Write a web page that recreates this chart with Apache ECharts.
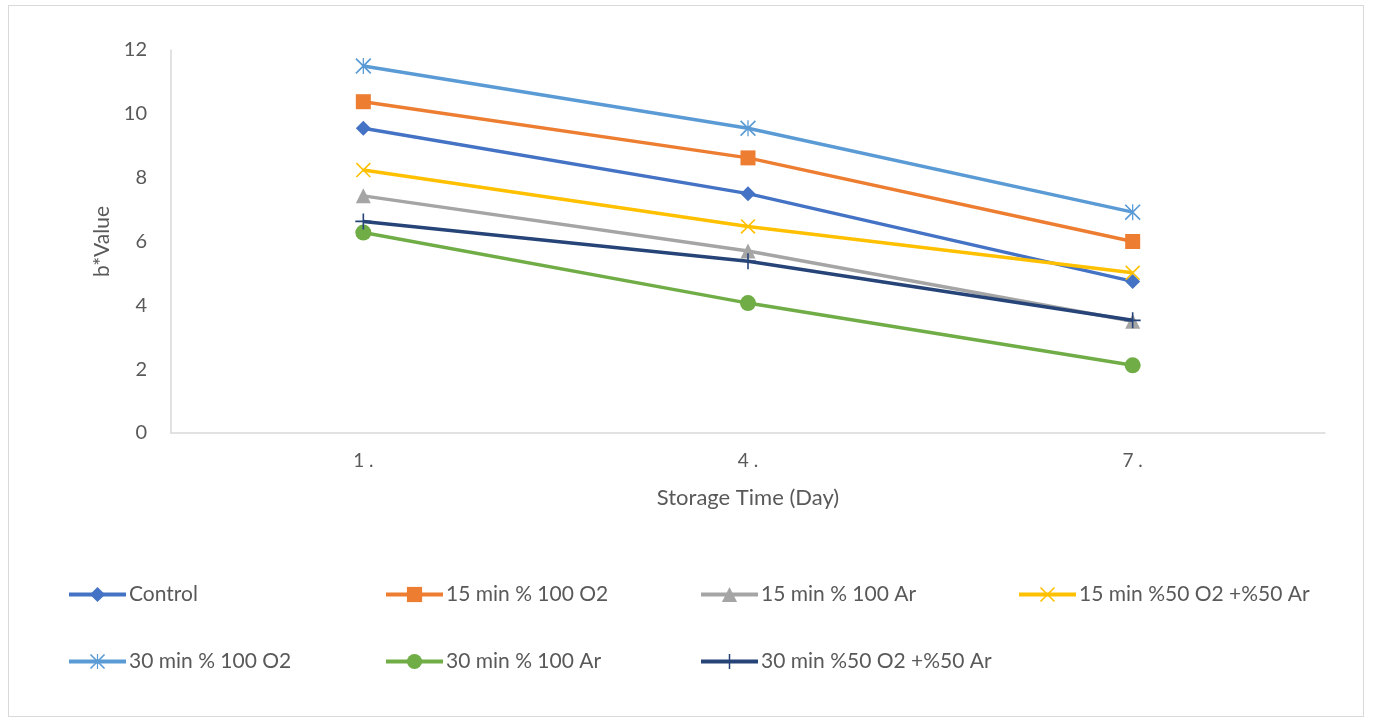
<!DOCTYPE html>
<html>
<head>
<meta charset="utf-8">
<script src="https://cdn.jsdelivr.net/npm/echarts@6/dist/echarts.min.js"></script>
<style>
html,body{margin:0;padding:0;background:#fff;}
#frame{position:absolute;left:8px;top:5px;width:1356px;height:712px;border:1px solid #d9d9d9;box-sizing:border-box;}
#chart{position:absolute;left:0;top:0;width:1373px;height:722px;}
</style>
</head>
<body>
<div id="frame"></div>
<div id="chart"></div>
<script>
const categories = ['1 .', '4 .', '7 .'];
const seriesNames = ['Control', '15 min % 100 O2', '15 min % 100 Ar', '15 min %50 O2 +%50 Ar', '30 min % 100 O2', '30 min % 100 Ar', '30 min %50 O2 +%50 Ar'];
const control = [9.55, 7.5, 4.75];
const o2_15 = [10.38, 8.62, 6.0];
const ar_15 = [7.43, 5.7, 3.5];
const mix_15 = [8.24, 6.47, 5.02];
const o2_30 = [11.5, 9.55, 6.92];
const ar_30 = [6.28, 4.07, 2.12];
const mix_30 = [6.63, 5.38, 3.53];
const yTicks = {min: 0, max: 12, interval: 2};

const colors = ['#4472C4', '#ED7D31', '#A5A5A5', '#FFC000', '#5B9BD5', '#70AD47', '#264478'];
const X_PATH = 'path://M0,1.5L1.5,0L20,18.5L18.5,20Z M18.5,0L20,1.5L1.5,20L0,18.5Z';
const AST_PATH = 'path://M0,1.5L1.5,0L20,18.5L18.5,20Z M18.5,0L20,1.5L1.5,20L0,18.5Z M9.2,0L10.8,0L10.8,20L9.2,20Z';
const PLUS_PATH = 'path://M9,0L11,0L11,20L9,20Z M0,9L20,9L20,11L0,11Z';
const symbols = ['diamond', 'rect', 'triangle', X_PATH, AST_PATH, 'circle', PLUS_PATH];
const sizes = [15, 15, 15, 15, 16, 16, 16];
const dataArr = [control, o2_15, ar_15, mix_15, o2_30, ar_30, mix_30];

const font = 'Lato, "Open Sans", sans-serif';
const legendPos = [
  {left: 67, top: 584}, {left: 384, top: 584}, {left: 699, top: 584}, {left: 1017, top: 584},
  {left: 67, top: 651}, {left: 384, top: 651}, {left: 699, top: 651}
];

const chart = echarts.init(document.getElementById('chart'));
chart.setOption({
  animation: false,
  backgroundColor: 'transparent',
  grid: {left: 171, right: 48, top: 50, bottom: 289},
  xAxis: {
    type: 'category', data: categories, boundaryGap: true,
    axisLine: {lineStyle: {color: '#d9d9d9', width: 1.5}},
    axisTick: {show: false},
    axisLabel: {color: '#595959', fontSize: 19, fontFamily: font, margin: 18},
    name: 'Storage Time (Day)', nameLocation: 'middle', nameGap: 54,
    nameTextStyle: {color: '#595959', fontSize: 22, fontFamily: font}
  },
  yAxis: {
    type: 'value', min: yTicks.min, max: yTicks.max, interval: yTicks.interval,
    axisLine: {show: true, lineStyle: {color: '#d9d9d9', width: 1.5}},
    axisTick: {show: false},
    splitLine: {show: false},
    axisLabel: {color: '#595959', fontSize: 20, fontFamily: font, margin: 24},
    name: 'b*Value', nameLocation: 'middle', nameGap: 57, nameRotate: 90,
    nameTextStyle: {color: '#595959', fontSize: 21, fontFamily: font}
  },
  legend: seriesNames.map((n, i) => ({
    data: [n], left: legendPos[i].left, top: legendPos[i].top, padding: 0,
    itemWidth: 57, itemHeight: 19, itemGap: 0,
    lineStyle: {width: 4},
    textStyle: {color: '#595959', fontSize: 21, fontFamily: font, padding: [0, 0, 0, -2]}
  })),
  series: seriesNames.map((n, i) => ({
    name: n, type: 'line', data: dataArr[i],
    symbol: symbols[i], symbolSize: sizes[i],
    lineStyle: {color: colors[i], width: 3.5},
    itemStyle: {color: colors[i]},
    z: 2 + i
  }))
});
</script>
</body>
</html>
